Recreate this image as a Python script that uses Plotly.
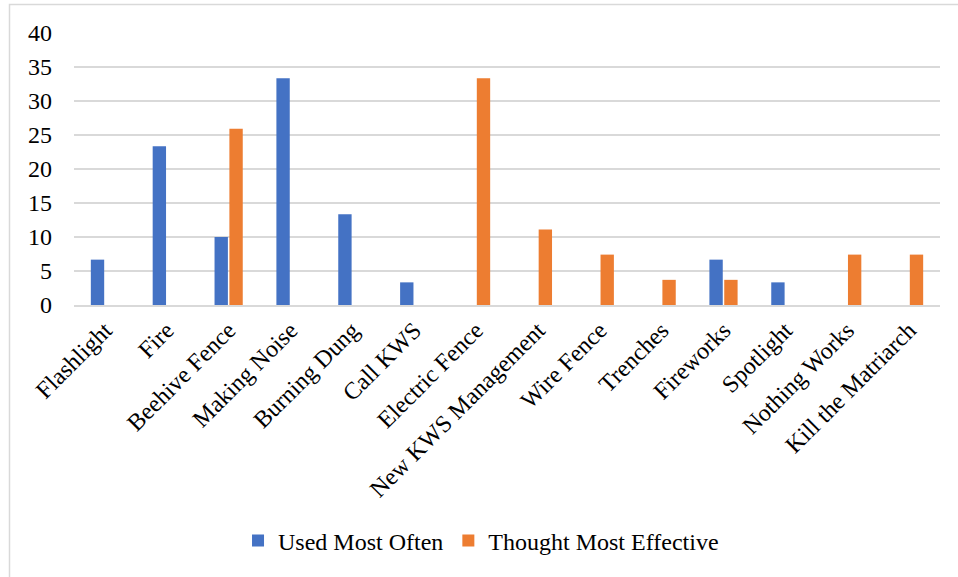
import plotly.graph_objects as go

categories = ["Flashlight", "Fire", "Beehive Fence", "Making Noise", "Burning Dung",
              "Call KWS", "Electric Fence", "New KWS Management", "Wire Fence",
              "Trenches", "Fireworks", "Spotlight", "Nothing Works", "Kill the Matriarch"]

# percentages of respondents (30 for "used", 27 for "effective")
used_most_often = [6.67, 23.33, 10.0, 33.33, 13.33, 3.33, None, None, None,
                   None, 6.67, 3.33, None, None]
thought_most_effective = [None, None, 25.93, None, None, None, 33.33, 11.11, 7.41,
                          3.70, 3.70, None, 7.41, 7.41]

y_ticks = [0, 5, 10, 15, 20, 25, 30, 35, 40]

BLUE = "#4472C4"
ORANGE = "#ED7D31"
GRID = "#D9D9D9"
FONT = "Liberation Serif, Times New Roman, serif"
FS = 24

fig = go.Figure()
fig.add_trace(go.Bar(name="Used Most Often", x=categories, y=used_most_often,
                     marker=dict(color=BLUE, line=dict(width=0))))
fig.add_trace(go.Bar(name="Thought Most Effective", x=categories, y=thought_most_effective,
                     marker=dict(color=ORANGE, line=dict(width=0))))

L, R, T, B = 74, 18, 33, 272
W, H = 958, 577
pw, ph = W - L - R, H - T - B

fig.update_layout(
    width=W, height=H,
    margin=dict(l=L, r=R, t=T, b=B, autoexpand=False),
    paper_bgcolor="white", plot_bgcolor="white",
    barmode="group", bargap=0.52, bargroupgap=0.1,
    font=dict(family=FONT, size=FS, color="#000000"),
    showlegend=True,
    legend=dict(orientation="h", x=0.47, xanchor="center", y=(H - B - 541) / ph,
                yanchor="middle", font=dict(family=FONT, size=FS, color="#000000"),
                itemwidth=30, traceorder="normal"),
    xaxis=dict(tickangle=-45, showgrid=False, showline=True, linecolor=GRID,
               linewidth=1.5, ticks="", tickfont=dict(family=FONT, size=FS)),
    yaxis=dict(range=[0, 40], tickvals=y_ticks, showgrid=True, gridcolor=GRID,
               gridwidth=1.5, zeroline=False, showline=False, ticks="",
               tickfont=dict(family=FONT, size=FS), ticklabelstandoff=21),
)

# light frame around the whole chart area
fig.add_shape(type="rect", xref="paper", yref="paper",
              x0=(9.5 - L) / pw, x1=(W + 10 - L) / pw,
              y0=(H - B - (H + 10)) / ph, y1=(H - B - 4.5) / ph,
              line=dict(color=GRID, width=1.5), fillcolor="rgba(0,0,0,0)", layer="below")

fig.write_html("out.html")
